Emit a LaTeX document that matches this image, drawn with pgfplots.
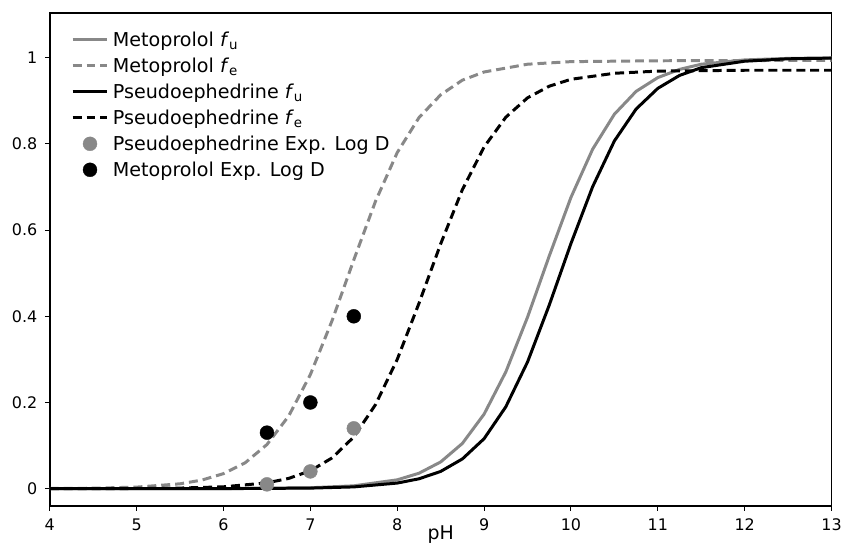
\documentclass[border=0pt]{standalone}
\usepackage{fontspec}
\setmainfont{DejaVu Sans}
\usepackage{pgfplots}
\pgfplotsset{compat=1.18}
\definecolor{mgray}{RGB}{136,136,136}
\begin{document}
\begin{tikzpicture}
\begin{axis}[
  name=ax,
  scale only axis,
  width=785pt, height=495pt,
  xmin=4, xmax=13, ymin=-0.04, ymax=1.104,
  xtick={4,5,...,13},
  ytick={0,0.2,0.4,0.6,0.8,1},
  yticklabels={0,0.2,0.4,0.6,0.8,1},
  tick pos=left,
  tick align=outside,
  major tick length=5pt,
  tick style={line width=1pt, black},
  axis line style={line width=1.8pt},
  /pgf/number format/assume math mode=true,
  tick label style={font=\fontsize{16}{19}\selectfont},
  xlabel={pH},
  xlabel style={font=\fontsize{19}{22}\selectfont, yshift=12pt},
  xticklabel style={yshift=-4pt},
  yticklabel style={xshift=-4pt},
  legend cell align=left,
  legend style={draw=none, fill=none, at={(0.027,0.966)}, anchor=north west,
    font=\fontsize{19.2}{23}\selectfont, row sep=6pt, column sep=2pt, inner sep=0pt,
    nodes={inner sep=2pt}},
  legend image code/.code={\draw[mark repeat=2,mark phase=2,#1] plot coordinates {(0pt,0pt)(17.5pt,0pt)(35pt,0pt)};},
]
% Metoprolol fu
\addplot[mgray, line width=3pt] coordinates {
(4,0) (6,0.0002) (7,0.0021) (7.5,0.0066) (8,0.0205) (8.25,0.0358) (8.5,0.062)
(8.75,0.105) (9,0.173) (9.25,0.271) (9.5,0.398) (9.75,0.540) (10,0.676)
(10.25,0.788) (10.5,0.869) (10.75,0.922) (11,0.954) (11.25,0.973) (11.5,0.985)
(12,0.995) (12.5,0.9985) (13,0.9995)};
\addlegendentry{Metoprolol \textit{f}\textsubscript{u}}
% Metoprolol fe
\addplot[mgray, line width=3pt, dash pattern=on 9pt off 5pt] coordinates {
(4,0.0004) (4.5,0.0011) (5,0.0036) (5.5,0.0113) (5.75,0.0199) (6,0.0349)
(6.25,0.0602) (6.5,0.1024) (6.75,0.1685) (7,0.2648) (7.25,0.390) (7.5,0.531)
(7.75,0.667) (8,0.780) (8.25,0.861) (8.5,0.914) (8.75,0.948) (9,0.967)
(9.5,0.985) (10,0.991) (11,0.993) (13,0.994)};
\addlegendentry{Metoprolol \textit{f}\textsubscript{e}}
% Pseudoephedrine fu
\addplot[black, line width=3pt] coordinates {
(4,0) (6,0.0001) (7,0.0013) (7.5,0.0041) (8,0.013) (8.25,0.0229) (8.5,0.040)
(8.75,0.069) (9,0.116) (9.25,0.190) (9.5,0.294) (9.75,0.426) (10,0.569)
(10.25,0.701) (10.5,0.807) (10.75,0.881) (11,0.929) (11.25,0.959) (11.5,0.977)
(12,0.992) (12.5,0.9976) (13,0.9992)};
\addlegendentry{Pseudoephedrine \textit{f}\textsubscript{u}}
% Pseudoephedrine fe
\addplot[black, line width=3pt, dash pattern=on 9pt off 5pt] coordinates {
(4,0) (5,0.0004) (5.5,0.0014) (6,0.0043) (6.5,0.0135) (6.75,0.0238) (7,0.0415)
(7.25,0.0714) (7.5,0.120) (7.75,0.195) (8,0.300) (8.25,0.430) (8.5,0.568)
(8.75,0.694) (9,0.793) (9.25,0.862) (9.5,0.907) (9.75,0.934) (10,0.950)
(10.5,0.964) (11,0.969) (12,0.971) (13,0.971)};
\addlegendentry{Pseudoephedrine \textit{f}\textsubscript{e}}
% Experimental points
\addplot[only marks, mark=*, mark size=7pt, mgray, mark options={fill=mgray, draw=mgray}] coordinates {
(6.5,0.01) (7,0.04) (7.5,0.14)};
\addlegendentry{Pseudoephedrine Exp. Log D}
\addplot[only marks, mark=*, mark size=7pt, black, mark options={fill=black}] coordinates {
(6.5,0.13) (7,0.20) (7.5,0.40)};
\addlegendentry{Metoprolol Exp. Log D}
\end{axis}
\path (ax.south west) ++(-50pt,-49pt) rectangle ++(845pt,557pt);
\end{tikzpicture}
\end{document}
